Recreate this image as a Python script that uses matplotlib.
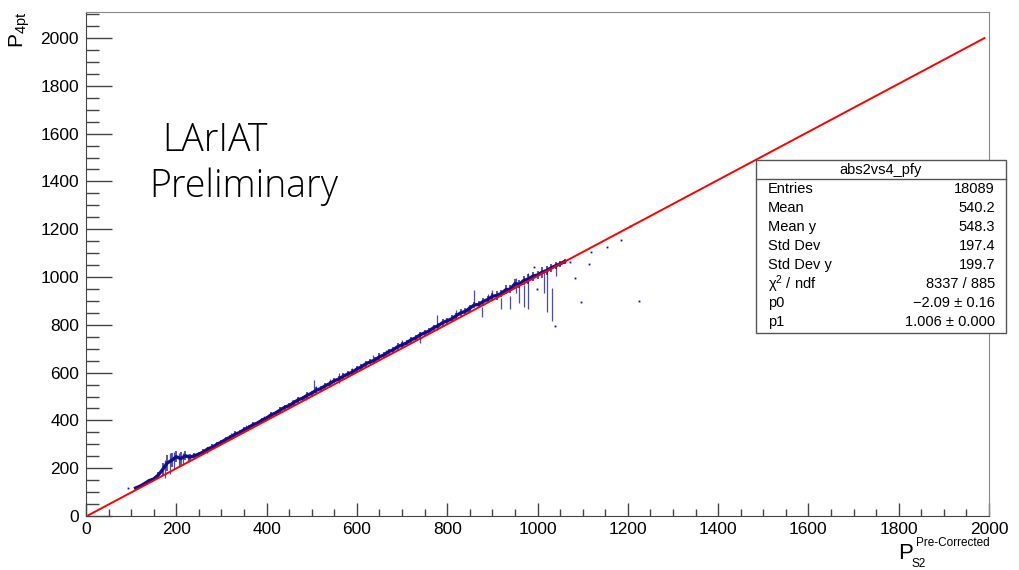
import matplotlib
matplotlib.use("Agg")
import matplotlib.pyplot as plt
import matplotlib.ticker as mticker
from matplotlib.patches import Rectangle
import numpy as np

# profile bins: centre, mean P_4pt, error half-width
bin_x = np.arange(110, 1070, 10)
bin_mean = [
    117, 125, 136, 148, 155, 171, 195, 222, 233, 248,
    240, 252, 246, 252, 259, 268, 281, 288, 300, 309,
    321, 330, 342, 349, 361, 370, 382, 389, 401, 410,
    423, 431, 443, 455, 462, 474, 486, 493, 505, 514,
    526, 533, 545, 554, 566, 573, 585, 594, 602, 615,
    624, 637, 645, 653, 666, 674, 687, 695, 708, 716,
    724, 737, 745, 758, 766, 774, 788, 796, 809, 817,
    825, 838, 850, 856, 869, 883, 885, 898, 906, 919,
    923, 931, 947, 949, 972, 970, 986, 992, 1004, 1008,
    1020, 1027, 1038, 1047, 1055, 1065,
]
bin_err = [
    5, 6, 7, 6, 8, 14, 28, 35, 30, 22,
    26, 18, 15, 12, 9, 11, 9, 12, 10, 9,
    11, 10, 12, 9, 11, 10, 12, 10, 11, 9,
    12, 10, 13, 11, 12, 10, 13, 11, 12, 10,
    13, 11, 12, 13, 11, 12, 14, 11, 12, 13,
    12, 13, 11, 12, 14, 12, 13, 12, 14, 12,
    13, 12, 14, 13, 12, 14, 13, 12, 15, 13,
    14, 13, 15, 14, 16, 14, 15, 16, 14, 16,
    18, 15, 19, 16, 20, 17, 19, 22, 19, 18,
    22, 19, 16, 14, 12, 9,
]

# bins with a wide spread (error bar low / high end)
spike_x = [175, 185, 195, 205, 215, 225, 268, 322, 355, 395,
           429, 457, 470, 488, 506, 510, 540, 561, 590, 635,
           665, 700, 739, 778, 820, 845, 860, 876, 890, 900,
           920, 938, 953, 960, 969, 980, 1015, 1020, 1033, 1042]
spike_lo = [160, 175, 195, 210, 215, 225, 262, 322, 355, 398,
            435, 463, 478, 486, 526, 520, 545, 555, 595, 639,
            668, 705, 724, 777, 830, 848, 881, 831, 898, 905,
            868, 868, 935, 893, 873, 868, 935, 852, 818, 1006]
spike_hi = [235, 262, 267, 265, 262, 258, 290, 348, 380, 420,
            455, 484, 500, 512, 568, 545, 575, 597, 620, 672,
            695, 735, 770, 839, 862, 880, 944, 873, 930, 945,
            914, 922, 994, 977, 965, 1015, 1019, 1040, 952, 1040]

# single-entry bins
dot_x = [92, 998, 993, 1038, 1072, 1083, 1097, 1113, 1118, 1153, 1186, 1204, 1224]
dot_y = [117, 948, 1040, 797, 1062, 998, 895, 1056, 1104, 1127, 1157, 1215, 898]

# fit pol1
p0, p1 = -2.09, 1.006
fit_range = [5, 1990]

stats_names = ["Entries", "Mean", "Mean y", "Std Dev", "Std Dev y",
               "\u03c7$^{2}$ / ndf", "p0", "p1"]
stats_vals = ["18089", "540.2", "548.3", "197.4", "199.7",
              "8337 / 885", "\u22122.09 \u00b1 0.16", "1.006 \u00b1 0.000"]

W, H = 1019, 570
plt.rcParams["font.family"] = ["Liberation Sans", "DejaVu Sans"]
plt.rcParams["mathtext.fontset"] = "custom"
plt.rcParams["mathtext.rm"] = "Liberation Sans"
plt.rcParams["mathtext.it"] = "Liberation Sans"


def fx(px):
    return px / W


def fy(py):
    return 1 - py / H


fig = plt.figure(figsize=(W / 100, H / 100), dpi=100)
ax = fig.add_axes([fx(86), fy(516), fx(989) - fx(86), fy(12) - fy(516)])

blue = "#10108f"
ax.vlines(bin_x, np.array(bin_mean) - np.array(bin_err), np.array(bin_mean) + np.array(bin_err),
          color=blue, lw=1.1, alpha=0.9)
ax.plot(bin_x, bin_mean, color=blue, lw=2.4)
ax.vlines(spike_x, spike_lo, spike_hi, color=blue, lw=0.9, alpha=0.75)
ax.plot(dot_x, dot_y, ls="none", marker="s", ms=1.3, color=blue, mec="none")

xf = np.array(fit_range)
ax.plot(xf, p0 + p1 * xf, color="#ff0000", lw=1.4, zorder=5)

ax.set_xlim(0, 2000)
ax.set_ylim(0, 2109)
ax.xaxis.set_major_locator(mticker.MultipleLocator(200))
ax.xaxis.set_minor_locator(mticker.MultipleLocator(50))
ax.yaxis.set_major_locator(mticker.MultipleLocator(200))
ax.yaxis.set_minor_locator(mticker.MultipleLocator(50))
ax.tick_params(axis="both", which="both", direction="in", colors="#444444",
               labelcolor="black", labelsize=12.5, top=False, right=False)
ax.tick_params(axis="x", which="major", length=9.4, width=1, pad=4)
ax.tick_params(axis="x", which="minor", length=5, width=1)
ax.tick_params(axis="y", which="major", length=18.7, width=1, pad=5)
ax.tick_params(axis="y", which="minor", length=9.4, width=1)
for side in ["left", "bottom"]:
    ax.spines[side].set_color("#444444")
for side in ["top", "right"]:
    ax.spines[side].set_color("#888888")

# axis titles
fig.text(fx(20), fy(12), r"P$_{\mathrm{4pt}}$", rotation=90, ha="center", va="top", fontsize=15)
fig.text(fx(898), fy(559), "P", ha="left", va="baseline", fontsize=16)
fig.text(fx(990), fy(546), "Pre-Corrected", ha="right", va="baseline", fontsize=8.5)
fig.text(fx(912), fy(567), "S2", ha="left", va="baseline", fontsize=8.5)

# label
lab_font = ["Open Sans", "Lato", "DejaVu Sans"]
fig.text(fx(215), fy(141), "LArIAT", ha="center", va="center", fontsize=27,
         family=lab_font, fontweight="light")
fig.text(fx(149), fy(187), "Preliminary", ha="left", va="center", fontsize=27,
         family=lab_font, fontweight="light")

# stats box
x0, x1, y0, y1 = 756, 1006, 160, 333
fig.patches.append(Rectangle((fx(x0), fy(y1)), fx(x1) - fx(x0), fy(y0) - fy(y1), transform=fig.transFigure,
                             facecolor="white", edgecolor="#555555", lw=1.0, zorder=10))
fig.lines.append(plt.Line2D([fx(x0), fx(x1)], [fy(179), fy(179)], transform=fig.transFigure,
                            color="#555555", lw=1.0, zorder=11))
fig.text(fx((x0 + x1) / 2), fy(170), "abs2vs4_pfy", ha="center", va="center", fontsize=10.5, zorder=12)
for i, (name, val) in enumerate(zip(stats_names, stats_vals)):
    yy = 189 + 19 * i
    fig.text(fx(768), fy(yy), name, ha="left", va="center", fontsize=10.5, zorder=12)
    fig.text(fx(995), fy(yy), val, ha="right", va="center", fontsize=10.5, zorder=12)

fig.savefig("out.png", dpi=100)
